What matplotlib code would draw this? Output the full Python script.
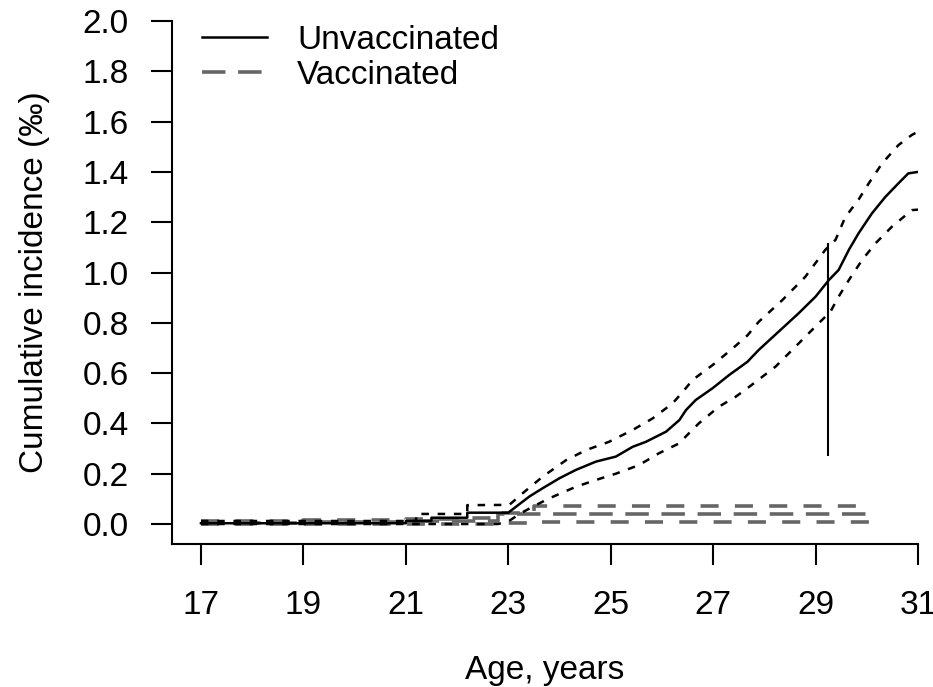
import matplotlib.pyplot as plt

# Unvaccinated: cumulative incidence (per mille)
unvacc_age = [17.0, 21.0, 21.0, 21.5, 21.5, 22.2, 22.2, 23.0, 23.41, 23.67, 24.0, 24.32, 24.71,
              25.1, 25.43, 25.69, 26.08, 26.34, 26.47, 26.66, 26.99, 27.31, 27.67, 27.89,
              28.28, 28.67, 29.0, 29.26, 29.45, 29.65, 29.84, 30.1, 30.36, 30.62, 30.81, 31.0]
unvacc_est = [0.003, 0.003, 0.012, 0.012, 0.025, 0.025, 0.045, 0.045, 0.109, 0.142, 0.182,
              0.215, 0.248, 0.268, 0.307, 0.327, 0.367, 0.413, 0.453, 0.493, 0.54, 0.592,
              0.645, 0.692, 0.765, 0.838, 0.904, 0.97, 1.01, 1.09, 1.156, 1.235, 1.30,
              1.355, 1.394, 1.40]

unvacc_upp_age = [17.0, 21.2, 21.2, 22.2, 22.2, 23.02, 23.28, 23.67, 24.13, 24.52, 24.97,
                  25.43, 25.82, 26.21, 26.41, 26.6, 26.99, 27.38, 27.67, 27.89, 28.35, 28.8,
                  29.19, 29.39, 29.58, 29.84, 30.04, 30.3, 30.62, 30.88, 31.0]
unvacc_upp = [0.012, 0.012, 0.04, 0.04, 0.075, 0.076, 0.122, 0.188, 0.254, 0.294, 0.327,
              0.374, 0.42, 0.48, 0.526, 0.573, 0.632, 0.698, 0.75, 0.804, 0.89, 0.983,
              1.09, 1.13, 1.22, 1.29, 1.355, 1.434, 1.507, 1.547, 1.56]

unvacc_low_age = [17.0, 22.8, 23.0, 23.22, 23.48, 23.8, 24.32, 24.71, 25.1, 25.55, 25.94,
                  26.33, 26.72, 27.11, 27.44, 27.67, 28.22, 28.67, 29.06, 29.29, 29.45,
                  29.65, 29.91, 30.17, 30.49, 30.88, 31.0]
unvacc_low = [0.0, 0.0, 0.01, 0.04, 0.069, 0.102, 0.148, 0.175, 0.2, 0.234, 0.281, 0.32,
              0.4, 0.466, 0.506, 0.54, 0.626, 0.718, 0.798, 0.844, 0.904, 0.97, 1.05,
              1.116, 1.182, 1.248, 1.25]

# Vaccinated
vacc_age = [17.0, 19.0, 21.0, 22.0, 22.8, 23.5, 30.1]
vacc_est = [0.004, 0.006, 0.01, 0.012, 0.04, 0.04, 0.04]
vacc_upp = [0.012, 0.014, 0.018, 0.025, 0.045, 0.073, 0.073]
vacc_low = [0.0, 0.0, 0.0, 0.0, 0.004, 0.007, 0.007]

# vertical marker line
marker_age = 29.25
marker_range = [0.27, 1.117]

x_ticks = [17, 19, 21, 23, 25, 27, 29, 31]
y_ticks = [0.0, 0.2, 0.4, 0.6, 0.8, 1.0, 1.2, 1.4, 1.6, 1.8, 2.0]

plt.rcParams['font.family'] = ['Liberation Sans', 'DejaVu Sans']
FS = 24

W, H = 933, 687
fig = plt.figure(figsize=(W / 100, H / 100), dpi=100)
ax = fig.add_axes([172 / W, 1 - 544 / H, (918 - 172) / W, (544 - 21) / H])

gray = '#666666'
ax.step(vacc_age, vacc_upp, where='post', color=gray, lw=2.6, dashes=(5, 4.5))
ax.step(vacc_age, vacc_low, where='post', color=gray, lw=2.6, dashes=(5, 4.5))
ax.step(vacc_age, vacc_est, where='post', color=gray, lw=2.6, dashes=(6.5, 3.5), label='Vaccinated')

ax.plot(unvacc_upp_age, unvacc_upp, color='black', lw=1.8, dashes=(3, 3.5))
ax.plot(unvacc_low_age, unvacc_low, color='black', lw=1.8, dashes=(3, 3.5))
ax.plot(unvacc_age, unvacc_est, color='black', lw=1.8, label='Unvaccinated')

ax.vlines(marker_age, marker_range[0], marker_range[1], color='black', lw=1.5)

ax.set_xlim(16.435, 31.0)
ax.set_ylim(-0.0795, 2.0)
ax.set_xticks(x_ticks)
ax.set_yticks(y_ticks)
ax.set_yticklabels([f'{v:.1f}' for v in y_ticks])
ax.spines['top'].set_visible(False)
ax.spines['right'].set_visible(False)
ax.spines['left'].set_linewidth(1.5)
ax.spines['bottom'].set_linewidth(1.5)
ax.tick_params(axis='both', length=15, width=1.5, labelsize=FS, color='black')
ax.tick_params(axis='y', pad=16)
ax.tick_params(axis='x', pad=18)

ax.set_xlabel('Age, years', fontsize=FS)
ax.set_ylabel('Cumulative incidence (‰)', fontsize=FS)
ax.xaxis.set_label_coords(0.5, -0.213)
ax.yaxis.set_label_coords(-0.163, 0.5)

handles, labels = ax.get_legend_handles_labels()
ax.legend(handles[::-1], labels[::-1], loc='upper left', bbox_to_anchor=(0.0, 1.05),
          frameon=False, fontsize=FS, handlelength=1.95, handletextpad=0.9,
          labelspacing=0.12)

fig.savefig('out.png', dpi=100)
